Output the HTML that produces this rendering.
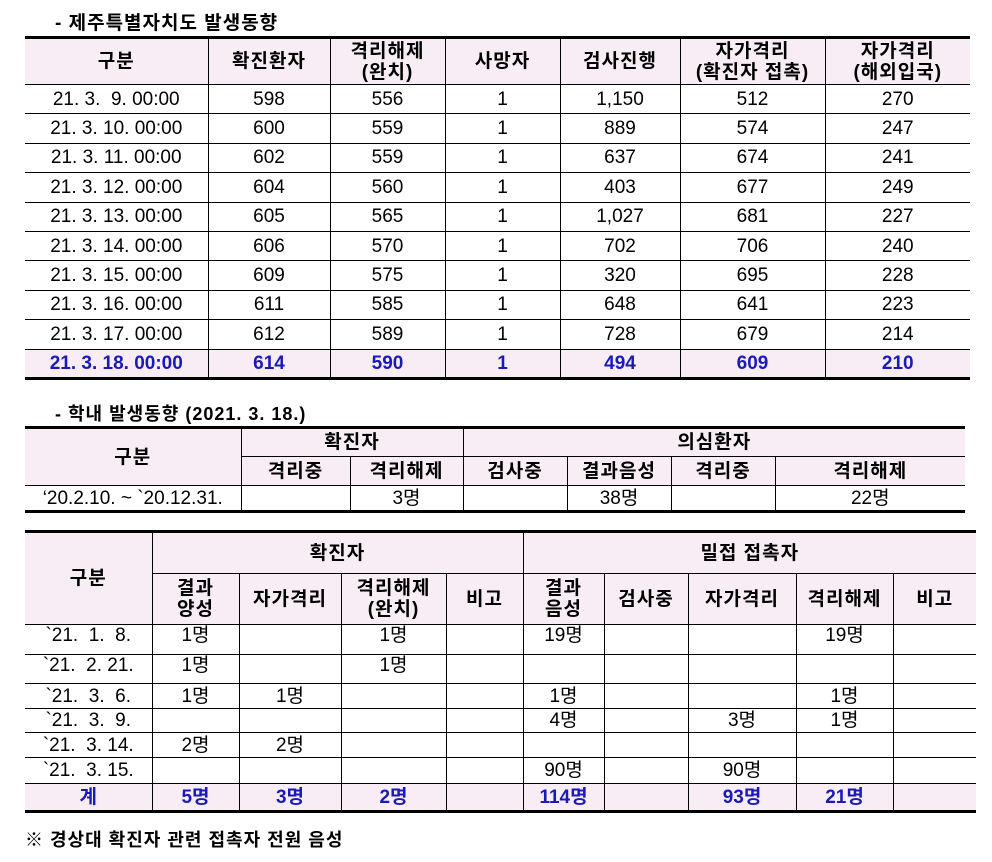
<!DOCTYPE html>
<html><head><meta charset="utf-8"><style>
body{margin:0;width:992px;height:862px;background:#fff;position:relative;font-family:"Liberation Sans","Noto Sans CJK KR","NanumGothic",sans-serif;color:#000;overflow:hidden}
.t{position:absolute;font-weight:bold;font-size:19px;white-space:nowrap;letter-spacing:1px}
table{position:absolute;border-collapse:collapse;table-layout:fixed;font-size:19px}
td{border:1px solid #000;text-align:center;padding:0;line-height:21px;overflow:hidden;white-space:nowrap}
tr td:first-child{border-left:none}
tr td:last-child{border-right:none}
.h td{background:#f8edf4;font-weight:bold;letter-spacing:1px}
td.h{background:#f8edf4;font-weight:bold;letter-spacing:1px}
.top td{border-top:3px solid #000}
.bot td{border-bottom:3px solid #000}
.b td{font-weight:bold;color:#1a1ab8}
.pk td{background:#f8edf4}
.va td{vertical-align:top}
</style></head><body>
<div class="t" style="left:55px;top:8px">- 제주특별자치도 발생동향</div>
<table style="left:25px;top:36px;width:945px">
<colgroup><col style="width:183px"><col style="width:122px"><col style="width:115px"><col style="width:115px"><col style="width:120px"><col style="width:145px"><col style="width:145px"></colgroup>
<tr class="h top" style="height:47px"><td>구분</td><td>확진환자</td><td>격리해제<br>(완치)</td><td>사망자</td><td>검사진행</td><td>자가격리<br>(확진자 접촉)</td><td>자가격리<br>(해외입국)</td></tr>
<tr style="height:29.4px"><td>21. 3. &nbsp;9. 00:00</td><td>598</td><td>556</td><td>1</td><td>1,150</td><td>512</td><td>270</td></tr>
<tr style="height:29.4px"><td>21. 3. 10. 00:00</td><td>600</td><td>559</td><td>1</td><td>889</td><td>574</td><td>247</td></tr>
<tr style="height:29.4px"><td>21. 3. 11. 00:00</td><td>602</td><td>559</td><td>1</td><td>637</td><td>674</td><td>241</td></tr>
<tr style="height:29.4px"><td>21. 3. 12. 00:00</td><td>604</td><td>560</td><td>1</td><td>403</td><td>677</td><td>249</td></tr>
<tr style="height:29.4px"><td>21. 3. 13. 00:00</td><td>605</td><td>565</td><td>1</td><td>1,027</td><td>681</td><td>227</td></tr>
<tr style="height:29.4px"><td>21. 3. 14. 00:00</td><td>606</td><td>570</td><td>1</td><td>702</td><td>706</td><td>240</td></tr>
<tr style="height:29.4px"><td>21. 3. 15. 00:00</td><td>609</td><td>575</td><td>1</td><td>320</td><td>695</td><td>228</td></tr>
<tr style="height:29.4px"><td>21. 3. 16. 00:00</td><td>611</td><td>585</td><td>1</td><td>648</td><td>641</td><td>223</td></tr>
<tr style="height:29.4px"><td>21. 3. 17. 00:00</td><td>612</td><td>589</td><td>1</td><td>728</td><td>679</td><td>214</td></tr>
<tr class="b pk bot" style="height:29.4px"><td>21. 3. 18. 00:00</td><td>614</td><td>590</td><td>1</td><td>494</td><td>609</td><td>210</td></tr>
</table>

<div class="t" style="left:55px;top:400px;font-size:18px">- 학내 발생동향 (2021. 3. 18.)</div>
<table style="left:25px;top:426px;width:940px">
<colgroup><col style="width:216px"><col style="width:109px"><col style="width:113px"><col style="width:104px"><col style="width:104px"><col style="width:104px"><col style="width:190px"></colgroup>
<tr class="top" style="height:29px"><td class="h" rowspan="2">구분</td><td class="h" colspan="2">확진자</td><td class="h" colspan="4">의심환자</td></tr>
<tr class="h" style="height:29px"><td>격리중</td><td>격리해제</td><td>검사중</td><td>결과음성</td><td>격리중</td><td>격리해제</td></tr>
<tr class="bot" style="height:26px"><td>‘20.2.10. ~ `20.12.31.</td><td></td><td>3명</td><td></td><td>38명</td><td></td><td>22명</td></tr>
</table>

<table style="left:25px;top:530px;width:951px">
<colgroup><col style="width:127px"><col style="width:87px"><col style="width:102px"><col style="width:105px"><col style="width:77px"><col style="width:81px"><col style="width:84px"><col style="width:108px"><col style="width:97px"><col style="width:83px"></colgroup>
<tr class="top" style="height:42px"><td class="h" rowspan="2">구분</td><td class="h" colspan="4">확진자</td><td class="h" colspan="5">밀접 접촉자</td></tr>
<tr class="h" style="height:51px"><td>결과<br>양성</td><td>자가격리</td><td>격리해제<br>(완치)</td><td>비고</td><td>결과<br>음성</td><td>검사중</td><td>자가격리</td><td>격리해제</td><td>비고</td></tr>
<tr class="va" style="height:30px"><td>`21. &nbsp;1. &nbsp;8.</td><td>1명</td><td></td><td>1명</td><td></td><td>19명</td><td></td><td></td><td>19명</td><td></td></tr>
<tr class="va" style="height:29px"><td>`21. &nbsp;2. 21.</td><td>1명</td><td></td><td>1명</td><td></td><td></td><td></td><td></td><td></td><td></td></tr>
<tr style="height:25px"><td>`21. &nbsp;3. &nbsp;6.</td><td>1명</td><td>1명</td><td></td><td></td><td>1명</td><td></td><td></td><td>1명</td><td></td></tr>
<tr style="height:24px"><td>`21. &nbsp;3. &nbsp;9.</td><td></td><td></td><td></td><td></td><td>4명</td><td></td><td>3명</td><td>1명</td><td></td></tr>
<tr style="height:25px"><td>`21. &nbsp;3. 14.</td><td>2명</td><td>2명</td><td></td><td></td><td></td><td></td><td></td><td></td><td></td></tr>
<tr style="height:26px"><td>`21. &nbsp;3. 15.</td><td></td><td></td><td></td><td></td><td>90명</td><td></td><td>90명</td><td></td><td></td></tr>
<tr class="b pk bot" style="height:28px"><td>계</td><td>5명</td><td>3명</td><td>2명</td><td></td><td>114명</td><td></td><td>93명</td><td>21명</td><td></td></tr>
</table>
<div class="t" style="left:25px;top:826px;font-size:18px">※ 경상대 확진자 관련 접촉자 전원 음성</div>
</body></html>
